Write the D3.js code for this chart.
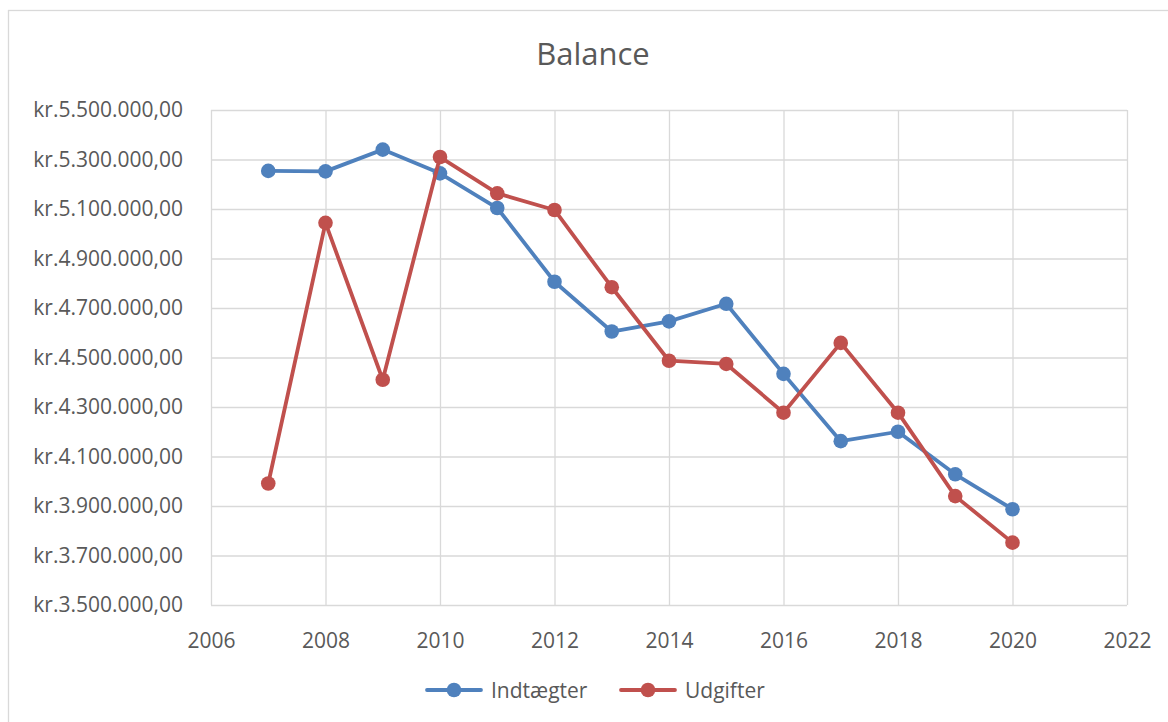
<!DOCTYPE html>
<html>
<head>
<meta charset="utf-8">
<script src="https://cdn.jsdelivr.net/npm/d3@7"></script>
<style>
	body { margin: 0; background: #ffffff; }
	svg { display: block; font-family: 'Open Sans', sans-serif; }
</style>
</head>
<body>
<svg id="chart" width="1168" height="722"></svg>
<script>
// chart data
var years = [2007, 2008, 2009, 2010, 2011, 2012, 2013, 2014, 2015, 2016, 2017, 2018, 2019, 2020];
var indtaegter = [5254000, 5252000, 5340000, 5244000, 5104000, 4806000, 4605000, 4646000, 4717000, 4434000, 4162000, 4200000, 4028000, 3887000];
var udgifter = [3991000, 5044000, 4410000, 5310000, 5163000, 5096000, 4784000, 4487000, 4474000, 4277000, 4559000, 4277000, 3940000, 3752000];
var seriesNames = ['Indtægter', 'Udgifter'];
var xTicks = [2006, 2008, 2010, 2012, 2014, 2016, 2018, 2020, 2022];
var yTicks = [3500000, 3700000, 3900000, 4100000, 4300000, 4500000, 4700000, 4900000, 5100000, 5300000, 5500000];

var colors = ['#4f81bd', '#c0504d'];
var grid = '#d9d9d9';
var textColor = '#595959';

var svg = d3.select('#chart');

// outer chart border
svg.append('rect')
	.attr('x', 8.5)
	.attr('y', 10.5)
	.attr('width', 1200)
	.attr('height', 800)
	.attr('fill', 'none')
	.attr('stroke', grid)
	.attr('stroke-width', 1.3);

var plot = {left: 211, right: 1127, top: 110, bottom: 605};

var x = d3.scaleLinear()
	.domain([2006, 2022])
	.range([plot.left, plot.right]);
var y = d3.scaleLinear()
	.domain([3500000, 5500000])
	.range([plot.bottom, plot.top]);

// danish currency format, kr.5.500.000,00
var dk = d3.formatLocale({decimal: ',', thousands: '.', grouping: [3], currency: ['kr.', '']});
var fmt = dk.format('$,.2f');

// title
svg.append('text')
	.attr('x', 593)
	.attr('y', 65)
	.attr('text-anchor', 'middle')
	.attr('font-size', '31px')
	.attr('fill', textColor)
	.text('Balance');

// gridlines (horizontal)
svg.append('g')
	.attr('transform', 'translate(' + plot.left + ',0)')
	.call(d3.axisLeft(y)
		.tickValues(yTicks)
		.tickSize(-(plot.right - plot.left))
		.tickFormat(''))
	.call(function(g){
		g.select('.domain').remove();
		g.selectAll('line').attr('stroke', grid).attr('stroke-width', 1.3);
	});

// gridlines (vertical) + year labels
svg.append('g')
	.attr('transform', 'translate(0,' + plot.bottom + ')')
	.call(d3.axisBottom(x)
		.tickValues(xTicks)
		.tickSize(-(plot.bottom - plot.top))
		.tickPadding(28)
		.tickFormat(d3.format('d')))
	.call(function(g){
		g.select('.domain').remove();
		g.selectAll('line').attr('stroke', grid).attr('stroke-width', 1.3);
		g.selectAll('text')
			.attr('font-size', '21px')
			.attr('font-family', "'Open Sans', sans-serif")
			.attr('fill', textColor);
	});

// y labels
svg.append('g')
	.attr('transform', 'translate(' + plot.left + ',0)')
	.call(d3.axisLeft(y)
		.tickValues(yTicks)
		.tickSize(0)
		.tickPadding(28)
		.tickFormat(fmt))
	.call(function(g){
		g.select('.domain').remove();
		g.selectAll('text')
			.attr('font-size', '21px')
			.attr('font-family', "'Open Sans', sans-serif")
			.attr('fill', textColor);
	});

// series
var series = [indtaegter, udgifter].map(function(vals, i){
	return {
		name: seriesNames[i],
		color: colors[i],
		points: vals.map(function(v, j){ return {year: years[j], value: v}; })
	};
});

var line = d3.line()
	.x(function(d){ return x(d.year); })
	.y(function(d){ return y(d.value); });

series.forEach(function(s){
	svg.append('path')
		.datum(s.points)
		.attr('d', line)
		.attr('fill', 'none')
		.attr('stroke', s.color)
		.attr('stroke-width', 3.8)
		.attr('stroke-linejoin', 'round');

	svg.selectAll('.dot_' + s.name)
		.data(s.points)
		.enter()
		.append('circle')
		.attr('cx', function(d){ return x(d.year); })
		.attr('cy', function(d){ return y(d.value); })
		.attr('r', 7.3)
		.attr('fill', s.color);
});

// legend
var legendX = [427, 621];
series.forEach(function(s, i){
	var g = svg.append('g')
		.attr('transform', 'translate(' + legendX[i] + ',690)');
	g.append('line')
		.attr('x1', 0)
		.attr('x2', 54)
		.attr('stroke', s.color)
		.attr('stroke-width', 3.8)
		.attr('stroke-linecap', 'round');
	g.append('circle')
		.attr('cx', 27)
		.attr('r', 7.3)
		.attr('fill', s.color);
	g.append('text')
		.attr('x', 64)
		.attr('y', 7.5)
		.attr('font-size', '21px')
		.attr('fill', textColor)
		.text(s.name);
});
</script>
</body>
</html>
